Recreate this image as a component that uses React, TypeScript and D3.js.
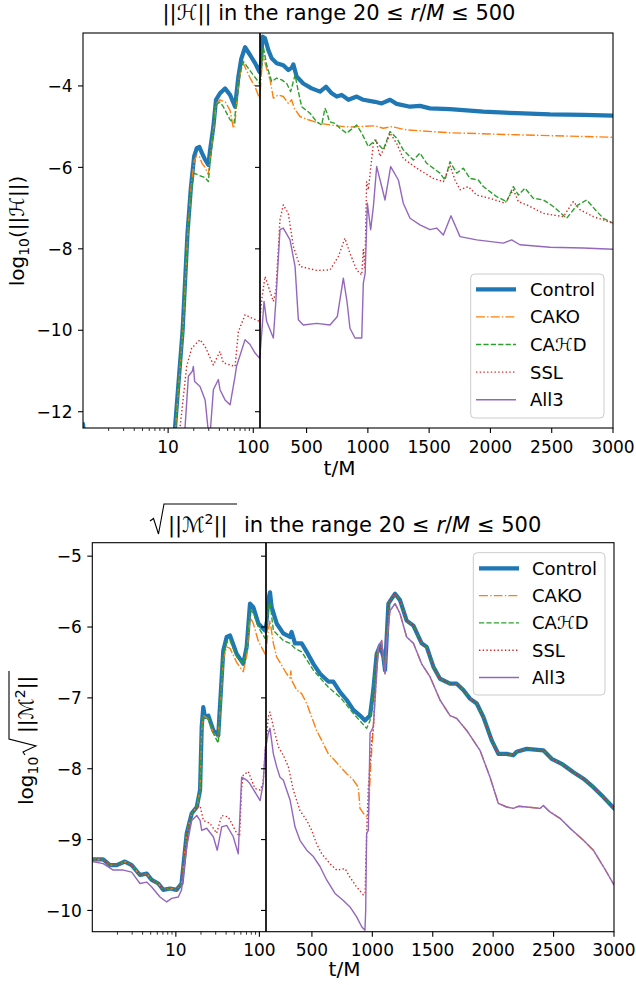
import React from 'react';
import * as d3 from 'd3';

type Pt = [number, number];

const seriesLabels = ['Control', 'CAKO', 'CAℋD', 'SSL', 'All3'];
const seriesColors = ['#1f77b4', '#ff7f0e', '#2ca02c', '#d62728', '#9467bd'];
const seriesWidths = [4.2, 1.4, 1.4, 1.4, 1.4];
const seriesDash = ['', '8.9,2.2,1.4,2.2', '5.2,2.2', '1.4,2.3', ''];

const logMajorTicks = [10, 100];
const logMinorTicks = [2, 3, 4, 5, 6, 7, 8, 9, 20, 30, 40, 50, 60, 70, 80, 90];
const linTicks = [500, 1000, 1500, 2000, 2500, 3000];
const hYTicks = [-12, -10, -8, -6, -4];
const mYTicks = [-10, -9, -8, -7, -6, -5];

// ---------- top panel: log10(||H||) ----------
const hControl: Pt[] = [
  [1, -12.3], [1.15, -13.5], [10, -14.8], [12.05, -12.39], [14.8, -10.0], [16.9, -7.6], [18.5, -6.5], [20.2, -5.73],
  [21.7, -5.53], [23.3, -5.5], [25, -5.65], [27, -5.8], [29.7, -5.94], [31, -5.6], [34, -5.0], [36.5, -4.34],
  [40.7, -4.18], [46.6, -4.06], [53.4, -4.22], [61.1, -4.51], [66.9, -3.77], [72, -3.35], [80.1, -3.05],
  [91.7, -3.24], [105, -3.44], [118, -3.65],
  [134, -3.1], [142, -2.79], [161, -2.83], [188, -3.12], [215, -3.32], [256, -3.44], [310, -3.49], [351, -3.61],
  [380, -3.55], [392, -3.47], [419, -3.77], [473, -3.94], [541, -4.06], [610, -4.14], [658, -4.02], [705, -4.18],
  [746, -4.26], [786, -4.22], [841, -4.34], [909, -4.26], [963, -4.34], [1058, -4.39], [1113, -4.43], [1181, -4.34],
  [1235, -4.44], [1344, -4.51], [1425, -4.49], [1507, -4.55], [1670, -4.57], [1942, -4.63], [2214, -4.67],
  [2486, -4.70], [2758, -4.71], [3000, -4.73],
];
const hCako: Pt[] = [
  [1, -13.5], [10, -14.9], [12.2, -12.39], [14.9, -10.0], [17, -7.6], [18.6, -6.5], [20.2, -5.85], [21.7, -5.7],
  [23.3, -5.73], [25, -5.9], [27.2, -6.0], [29.7, -6.18], [31, -5.8], [34, -5.1], [36.5, -4.45], [40.7, -4.34],
  [44.5, -4.38], [47, -4.4], [53.4, -4.6], [58.4, -5.04], [61.1, -4.9], [66.9, -3.9], [73.3, -3.53], [76.5, -3.45],
  [91.7, -3.8], [105, -4.02], [118, -4.3],
  [134, -3.6], [147, -3.24], [161, -3.44], [202, -3.85], [229, -4.3], [270, -4.22], [310, -4.26], [351, -4.43],
  [378, -4.34], [400, -4.55], [446, -4.75], [514, -4.83], [610, -4.92], [746, -4.98], [854, -5.01], [1058, -4.98],
  [1126, -5.04], [1194, -5.0], [1317, -5.08], [1670, -5.15], [2214, -5.2], [3000, -5.26],
];
const hCahd: Pt[] = [
  [1, -13.5], [10, -14.9], [12.2, -12.39], [14.9, -10.0], [17, -7.6], [18.6, -6.6], [20.2, -6.14], [23.3, -6.2],
  [27.2, -6.25], [29.7, -6.35], [31, -5.9], [34, -5.1], [35.6, -4.47], [40.7, -4.4], [44.5, -4.51], [53.4, -4.83],
  [59.5, -4.91], [70, -3.68], [76.5, -3.4], [100, -3.73], [118, -3.93],
  [134, -3.5], [147, -3.04], [174, -3.48], [215, -3.89], [256, -3.81], [297, -3.85], [338, -3.94], [370, -4.14],
  [406, -3.73], [433, -4.14], [460, -4.51], [528, -4.67], [582, -4.88], [623, -4.96], [650, -4.55], [668, -4.67],
  [686, -4.88], [732, -4.92], [773, -5.04], [827, -5.16], [909, -4.96], [950, -5.16], [1004, -5.49], [1058, -5.33],
  [1126, -5.57], [1181, -5.12], [1235, -5.28], [1289, -5.57], [1371, -5.82], [1425, -5.65], [1480, -5.9],
  [1588, -6.14], [1629, -6.31], [1670, -5.86], [1725, -6.14], [1779, -6.02], [1833, -6.27], [1901, -6.31],
  [1942, -6.47], [2051, -6.72], [2132, -6.84], [2187, -6.47], [2228, -6.68], [2282, -6.51], [2350, -6.76],
  [2432, -6.8], [2513, -6.96], [2622, -7.25], [2700, -6.95], [2785, -6.8], [2867, -7.08], [2921, -7.25], [3000, -7.37],
];
const hSsl: Pt[] = [
  [1, -14], [12, -14], [13.8, -12.39], [16.5, -10.89], [18.9, -10.44], [23.7, -10.23], [27.2, -10.4], [34, -10.85],
  [40.7, -10.52], [44.5, -10.8], [53.4, -10.85], [61.1, -10.89], [66.9, -10.03], [80.1, -9.62], [96, -9.7], [118, -9.78],
  [134, -9.25], [161, -8.68], [188, -8.92], [229, -9.29], [250, -9.01], [283, -7.29], [310, -6.92], [351, -7.13],
  [392, -7.94], [446, -8.43], [582, -8.53], [691, -8.52], [759, -8.19], [813, -7.74], [854, -8.11], [909, -8.52],
  [950, -8.64], [963, -8.02], [976, -8.5], [990, -6.35], [1004, -6.55], [1045, -5.41], [1066, -5.33], [1099, -5.73],
  [1140, -5.49], [1181, -5.16], [1235, -5.41], [1289, -5.78], [1398, -6.02], [1534, -6.27], [1616, -6.35],
  [1670, -5.94], [1711, -6.31], [1752, -6.55], [1820, -6.47], [1888, -6.68], [1997, -6.76], [2119, -6.88],
  [2187, -6.55], [2228, -6.84], [2296, -6.92], [2432, -7.13], [2595, -7.21], [2676, -6.84], [2731, -7.04],
  [2840, -7.21], [3000, -7.37],
];
const hAll3: Pt[] = [
  [1, -14], [14, -14], [15.8, -12.39], [17.3, -11.13], [19.3, -11.0], [19.8, -10.89], [20.5, -11.26], [23.7, -11.38],
  [27.2, -11.71], [29.7, -12.5], [31, -12.6], [34, -11.46], [38.9, -11.21], [40.7, -11.46], [46.6, -11.71],
  [53.4, -11.83], [61.1, -11.13], [63.5, -10.89], [80.1, -10.23], [91.7, -10.35], [105, -10.56], [118, -10.68],
  [134, -10.07], [153, -9.29], [174, -9.78], [229, -10.19], [250, -9.25], [283, -7.53], [310, -7.49], [365, -7.78],
  [406, -8.43], [433, -9.74], [473, -9.87], [582, -9.83], [691, -9.87], [751, -9.66], [800, -8.72], [830, -9.3],
  [854, -9.95], [895, -10.19], [950, -10.19], [963, -8.84], [978, -8.6], [996, -6.88], [1023, -7.53], [1045, -6.96],
  [1072, -5.98], [1113, -6.47], [1140, -6.8], [1186, -5.98], [1249, -6.31], [1289, -6.88], [1344, -7.25],
  [1425, -7.41], [1507, -7.53], [1561, -7.49], [1616, -7.66], [1678, -7.19], [1752, -7.7], [1888, -7.78],
  [2105, -7.86], [2173, -7.78], [2241, -7.9], [2486, -7.96], [2758, -7.98], [3000, -8.01],
];

// ---------- bottom panel: log10 sqrt(||M^2||) ----------
const mEarly: Pt[] = [
  [1, -9.28], [1.35, -9.28], [1.63, -9.36], [1.96, -9.36], [2.46, -9.31], [2.96, -9.36], [3.72, -9.5], [4.48, -9.48],
  [5.14, -9.57], [6.17, -9.62], [7.08, -9.71], [8.51, -9.69], [10.2, -9.71], [11.7, -9.62], [13.5, -8.91],
  [15.5, -8.63], [17.8, -8.54],
];
const mUpperLate: Pt[] = [
  [1036, -6.38], [1064, -6.26], [1091, -6.42], [1105, -6.61], [1133, -5.67], [1160, -5.6], [1188, -5.53],
  [1229, -5.62], [1284, -5.91], [1340, -5.98], [1408, -6.23], [1450, -6.28], [1505, -6.56], [1560, -6.73],
  [1643, -6.8], [1698, -6.8], [1753, -6.89], [1808, -7.01], [1864, -7.08], [1919, -7.27], [1988, -7.6],
  [2043, -7.79], [2112, -7.79], [2167, -7.81], [2195, -7.76], [2277, -7.72], [2415, -7.74], [2484, -7.86],
  [2567, -7.93], [2664, -8.05], [2747, -8.14], [2829, -8.26], [2912, -8.4], [3000, -8.56],
];
const mLowerLate: Pt[] = [
  [1050, -6.28], [1077, -6.19], [1105, -6.66], [1119, -6.19], [1146, -5.77], [1188, -5.67], [1229, -5.81],
  [1284, -6.14], [1340, -6.23], [1408, -6.52], [1477, -6.7], [1560, -7.03], [1643, -7.25], [1698, -7.29],
  [1781, -7.46], [1891, -7.74], [1974, -8.12], [2043, -8.49], [2112, -8.54], [2167, -8.56], [2208, -8.53],
  [2277, -8.54], [2388, -8.56], [2415, -8.52], [2470, -8.61], [2553, -8.7], [2636, -8.84], [2747, -9.01],
  [2829, -9.15], [2912, -9.38], [3000, -9.64],
];
const mControlMid: Pt[] = [
  [19.5, -8.3], [20.4, -7.41], [21.3, -7.13], [22.3, -7.27], [24.5, -7.25], [28.1, -7.46], [32.2, -7.53],
  [33.7, -7.13], [37, -6.33], [40.6, -6.14], [44.5, -6.12], [53.5, -6.38], [64.2, -6.52], [70.4, -6.28],
  [77.2, -5.67], [84.6, -5.72], [97.1, -5.95], [117, -6.05],
  [139, -5.62], [153, -5.51], [167, -5.72], [208, -5.95], [263, -6.09], [319, -6.14], [332, -6.07], [360, -6.23],
  [415, -6.23], [457, -6.35], [512, -6.52], [567, -6.66], [636, -6.77], [677, -6.77], [733, -6.92], [788, -7.03],
  [843, -7.17], [898, -7.25], [939, -7.32], [981, -7.25], [1008, -6.89],
];
const mCakoMid: Pt[] = [
  [19.5, -8.3], [20.4, -7.45], [21.3, -7.25], [24.5, -7.3], [28.1, -7.5], [32.2, -7.55], [33.7, -7.2], [37, -6.45],
  [40.6, -6.28], [44.5, -6.3], [53.5, -6.5], [64.2, -6.63], [70.4, -6.4], [77.2, -5.86], [84.6, -5.95], [97.1, -6.2],
  [117, -6.38],
  [139, -6.05], [153, -5.91], [181, -6.23], [208, -6.42], [250, -6.54], [291, -6.66], [320, -6.72], [326, -6.62],
  [332, -6.75], [374, -6.89], [415, -6.94], [457, -7.08], [498, -7.27], [539, -7.46], [581, -7.6], [636, -7.79],
  [677, -7.86], [733, -7.97], [788, -8.07], [843, -8.16], [884, -8.26], [898, -8.56], [939, -8.66], [967, -8.68],
  [986, -7.97], [1008, -7.41],
];
const mCahdMid: Pt[] = [
  [19.5, -8.3], [20.4, -7.45], [21.3, -7.27], [24.5, -7.3], [28.1, -7.5], [32.2, -7.64], [33.7, -7.2], [37, -6.4],
  [40.6, -6.22], [44.5, -6.19], [53.5, -6.42], [64.2, -6.52], [70.4, -6.32], [77.2, -5.76], [84.6, -5.8],
  [97.1, -6.0], [117, -6.16],
  [139, -5.75], [153, -5.65], [167, -5.85], [181, -6.05], [263, -6.19], [319, -6.23], [360, -6.3], [415, -6.35],
  [512, -6.61], [636, -6.85], [733, -6.99], [843, -7.22], [953, -7.43], [981, -7.32], [1008, -6.89],
];
const mSslMid: Pt[] = [
  [19.5, -8.52], [21.3, -8.73], [25.6, -8.77], [30.8, -8.91], [35.4, -8.66], [42.5, -8.68], [53.5, -8.91],
  [58, -8.95], [61, -8.3], [64.2, -8.09], [73.6, -8.04], [88.6, -8.28], [102, -8.3], [111, -8.2], [118, -7.7],
  [139, -7.27], [153, -7.2], [181, -7.41], [222, -7.69], [263, -7.81], [305, -7.97], [346, -8.3], [401, -8.59],
  [457, -8.73], [498, -8.87], [539, -9.06], [581, -9.2], [650, -9.34], [705, -9.43], [774, -9.41], [815, -9.53],
  [870, -9.67], [926, -9.78], [940, -9.76], [953, -8.91], [967, -8.26], [995, -7.6], [1008, -7.46],
];
const mAll3Mid: Pt[] = [
  [1, -9.31], [1.35, -9.34], [1.78, -9.43], [2.35, -9.43], [2.96, -9.46], [3.72, -9.62], [4.48, -9.6], [5.14, -9.67],
  [6.46, -9.81], [7.77, -9.88], [8.92, -9.83], [10.7, -9.81], [11.7, -9.71], [13.5, -9.1], [15.5, -8.73],
  [17.8, -8.66], [19.5, -8.73], [20.4, -8.87], [23.4, -8.84], [28.1, -8.96], [31.3, -9.15], [35.4, -8.82],
  [40.6, -8.8], [48.7, -8.96], [55.8, -9.2], [61.3, -8.12], [70.4, -8.16], [77, -8.21], [102, -8.45], [111, -8.21],
  [118, -7.7],
  [139, -7.5], [153, -7.43], [181, -7.79], [208, -7.97], [236, -8.12], [263, -8.16], [291, -8.3], [319, -8.44],
  [360, -8.82], [401, -9.01], [457, -9.15], [512, -9.24], [567, -9.38], [622, -9.57], [691, -9.76], [760, -9.86],
  [815, -9.95], [870, -10.09], [912, -10.23], [939, -10.28], [945, -10.0], [953, -8.91], [967, -8.87], [981, -7.5],
  [1008, -7.41],
];

const mControl: Pt[] = [...mEarly, ...mControlMid, ...mUpperLate];
const mCako: Pt[] = [...mEarly, ...mCakoMid, ...mLowerLate];
const mCahd: Pt[] = [...mEarly, ...mCahdMid, ...mUpperLate];
const mSsl: Pt[] = [...mEarly, ...mSslMid, ...mUpperLate];
const mAll3: Pt[] = [...mAll3Mid, ...mLowerLate];

const FONT = 'DejaVu Sans, Liberation Sans, sans-serif';

type Box = { left: number; right: number; top: number; bottom: number; split: number };
type LegendBox = { x: number; y: number; w: number; h: number; y0: number; dy: number; hx: number; tx: number };

function Panel({ id, box, yDomain, yTicks, series, legend }: {
  id: string; box: Box; yDomain: [number, number]; yTicks: number[]; series: Pt[][]; legend: LegendBox;
}) {
  const { left, right, top, bottom, split } = box;
  const xLog = d3.scaleLog().domain([1, 120]).range([left, split]);
  const xLin = d3.scaleLinear().domain([120, 3000]).range([split, right]);
  const y = d3.scaleLinear().domain(yDomain).range([bottom, top]);
  const lineLog = d3.line<Pt>().x((d) => xLog(d[0])).y((d) => y(d[1]));
  const lineLin = d3.line<Pt>().x((d) => xLin(d[0])).y((d) => y(d[1]));
  const ink = '#000';
  const fmt = (v: number) => (v < 0 ? '\u2212' + Math.abs(v) : String(v));
  return (
    <g>
      <defs>
        <clipPath id={id + 'L'}><rect x={left} y={top} width={split - left} height={bottom - top} /></clipPath>
        <clipPath id={id + 'R'}><rect x={split} y={top} width={right - split} height={bottom - top} /></clipPath>
      </defs>
      {[0, 1].map((side) => (
        <g key={side} clipPath={`url(#${id}${side === 0 ? 'L' : 'R'})`}>
          {series.map((s, i) => (
            <path key={i} d={(side === 0 ? lineLog : lineLin)(s) || ''} fill="none" stroke={seriesColors[i]}
              strokeWidth={seriesWidths[i]} strokeDasharray={seriesDash[i] || undefined}
              strokeLinejoin="round" strokeLinecap={i === 0 || i === 4 ? 'round' : 'butt'} />
          ))}
        </g>
      ))}
      {/* spines */}
      <rect x={left} y={top} width={right - left} height={bottom - top} fill="none" stroke={ink} strokeWidth={1.1} />
      <line x1={split} x2={split} y1={top} y2={bottom} stroke={ink} strokeWidth={1.7} />
      {/* y ticks */}
      {yTicks.map((t) => (
        <g key={t}>
          <line x1={left - 5} x2={left} y1={y(t)} y2={y(t)} stroke={ink} strokeWidth={1.1} />
          <line x1={split - 5} x2={split} y1={y(t)} y2={y(t)} stroke={ink} strokeWidth={1.1} />
          <text x={left - 10.5} y={y(t)} dy="0.36em" textAnchor="end" fontSize={17} fontFamily={FONT}>{fmt(t)}</text>
        </g>
      ))}
      {/* x ticks log */}
      {logMajorTicks.map((t) => (
        <g key={t}>
          <line x1={xLog(t)} x2={xLog(t)} y1={bottom} y2={bottom + 5} stroke={ink} strokeWidth={1.1} />
          <text x={xLog(t)} y={bottom + 24.5} textAnchor="middle" fontSize={17} fontFamily={FONT}>{t}</text>
        </g>
      ))}
      {logMinorTicks.map((t) => (
        <line key={t} x1={xLog(t)} x2={xLog(t)} y1={bottom} y2={bottom + 3} stroke={ink} strokeWidth={0.8} />
      ))}
      {linTicks.map((t) => (
        <g key={t}>
          <line x1={xLin(t)} x2={xLin(t)} y1={bottom} y2={bottom + 5} stroke={ink} strokeWidth={1.1} />
          <text x={xLin(t)} y={bottom + 24.5} textAnchor="middle" fontSize={17} fontFamily={FONT}>{t}</text>
        </g>
      ))}
      {/* legend */}
      <rect x={legend.x} y={legend.y} width={legend.w} height={legend.h} rx={4} fill="#fff" fillOpacity={0.8}
        stroke="#cccccc" strokeWidth={1} />
      {seriesLabels.map((lab, i) => {
        const ly = legend.y0 + i * legend.dy;
        return (
          <g key={lab}>
            <line x1={legend.hx} x2={legend.hx + 40} y1={ly} y2={ly} stroke={seriesColors[i]}
              strokeWidth={seriesWidths[i]} strokeDasharray={seriesDash[i] || undefined} />
            <text x={legend.tx} y={ly} dy="0.36em" fontSize={18} fontFamily={FONT}>{lab}</text>
          </g>
        );
      })}
    </g>
  );
}

export default function App() {
  const topBox: Box = { left: 83, right: 613, top: 33, bottom: 428, split: 260 };
  const botBox: Box = { left: 92.3, right: 614, top: 542.7, bottom: 931.7, split: 266 };
  return (
    <svg width={636} height={985} style={{ position: 'absolute', left: 0, top: 0, background: '#fff' }}
      fontFamily={FONT}>
      <rect x={0} y={0} width={636} height={985} fill="#fff" />
      <Panel id="ph" box={topBox} yDomain={[-12.4, -2.7]} yTicks={hYTicks}
        series={[hControl, hCako, hCahd, hSsl, hAll3]}
        legend={{ x: 470.7, y: 274, w: 133.3, h: 144, y0: 289.3, dy: 27.6, hx: 476, tx: 530 }} />
      <Panel id="pm" box={botBox} yDomain={[-10.3, -4.81]} yTicks={mYTicks}
        series={[mControl, mCako, mCahd, mSsl, mAll3]}
        legend={{ x: 473.3, y: 552.7, w: 131.7, h: 142.3, y0: 568.3, dy: 27.3, hx: 479, tx: 532 }} />

      {/* top title */}
      <text x={339} y={20} textAnchor="middle" fontSize={21}>
        ||ℋ|| in the range 20 ≤ <tspan fontStyle="italic">r</tspan>/<tspan fontStyle="italic">M</tspan> ≤ 500
      </text>
      {/* bottom title */}
      <path d="M150,521 L153.5,518.5 L158.5,534 L164,504 L237,504" fill="none" stroke="#000" strokeWidth={1.1} />
      <text x={168} y={531.7} fontSize={21}>||ℳ<tspan dy={-8} fontSize={14}>2</tspan><tspan dy={8}>||</tspan></text>
      <text x={244} y={531.7} fontSize={21}>
        in the range 20 ≤ <tspan fontStyle="italic">r</tspan>/<tspan fontStyle="italic">M</tspan> ≤ 500
      </text>

      {/* x labels */}
      <text x={339.5} y={475} textAnchor="middle" fontSize={20}>t/M</text>
      <text x={344.5} y={976} textAnchor="middle" fontSize={20}>t/M</text>

      {/* top y label */}
      <g transform="translate(24,231) rotate(-90)">
        <text x={0} y={0} textAnchor="middle" fontSize={20}>
          log<tspan dy={5} fontSize={14}>10</tspan><tspan dy={-5}>(||ℋ||)</tspan>
        </text>
      </g>
      {/* bottom y label */}
      <g transform="translate(33,737) rotate(-90)">
        <text x={-68} y={0} fontSize={20}>log<tspan dy={5} fontSize={14}>10</tspan></text>
        <path d="M-18,-8 L-15,-10 L-9,3 L-2,-24 L66,-24" fill="none" stroke="#000" strokeWidth={1.1} />
        <text x={4} y={0} fontSize={20}>||ℳ<tspan dy={-8} fontSize={14}>2</tspan><tspan dy={8}>||</tspan></text>
      </g>
    </svg>
  );
}
